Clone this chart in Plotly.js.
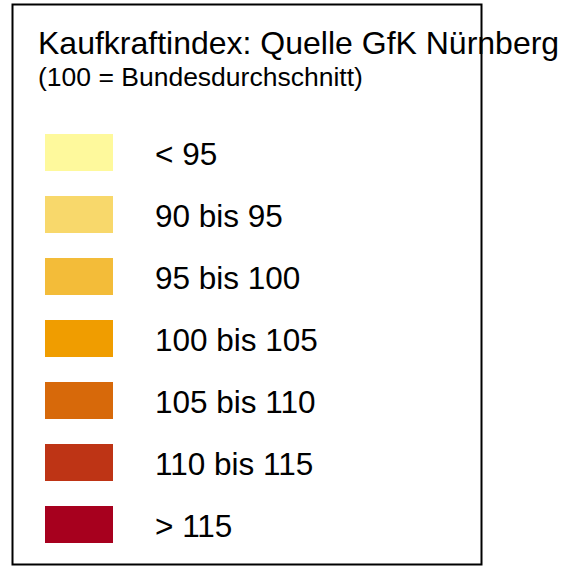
<!DOCTYPE html>
<html>
<head>
<meta charset="utf-8">
<script src="https://cdn.plot.ly/plotly-3.0.1.min.js"></script>
<style>
  html, body { margin: 0; padding: 0; background: #ffffff; }
  #chart { width: 565px; height: 566px; }
</style>
</head>
<body>
<div id="chart"></div>
<script>
// ---- data ----
var titleText = "Kaufkraftindex: Quelle GfK Nürnberg";
var subtitleText = "(100 = Bundesdurchschnitt)";
var classLabels = ["< 95", "90 bis 95", "95 bis 100", "100 bis 105", "105 bis 110", "110 bis 115", "> 115"];
var classColors = ["#FEF99C", "#F8D86B", "#F3BC39", "#F09D00", "#D7690A", "#BE3415", "#A7001E"];
var rowIndex = classLabels.map(function (_, i) { return i; });

// ---- layout constants ----
var W = 565, H = 566;
var FONT = "Liberation Sans, Arial, Helvetica, sans-serif";
var rowTopPx = 152, rowStepPx = 62;

var swatches = {
  type: "bar",
  orientation: "h",
  y: rowIndex,
  x: classLabels.map(function () { return 68; }),
  base: 45,
  width: 37 / rowStepPx,
  marker: { color: classColors, line: { width: 0 } },
  hoverinfo: "skip",
  showlegend: false
};

var annotations = classLabels.map(function (lab, i) {
  return {
    x: 152.5, y: rowIndex[i], xref: "x", yref: "y",
    text: lab, showarrow: false,
    xanchor: "left", yanchor: "middle", yshift: -2,
    font: { family: FONT, size: 31.5, color: "#000000" }
  };
});
annotations.push({
  x: 36, y: 1 - 43.5 / H, xref: "x", yref: "paper",
  text: titleText, showarrow: false, xanchor: "left", yanchor: "middle",
  font: { family: FONT, size: 32, color: "#000000" }
});
annotations.push({
  x: 36, y: 1 - 77 / H, xref: "x", yref: "paper",
  text: subtitleText, showarrow: false, xanchor: "left", yanchor: "middle",
  font: { family: FONT, size: 26.5, color: "#000000" }
});

var layout = {
  width: W, height: H,
  margin: { l: 0, r: 0, t: 0, b: 0, pad: 0 },
  paper_bgcolor: "#ffffff", plot_bgcolor: "#ffffff",
  xaxis: { range: [0, W], visible: false, fixedrange: true },
  yaxis: { range: [(H - rowTopPx) / rowStepPx, -rowTopPx / rowStepPx], visible: false, fixedrange: true },
  bargap: 0,
  showlegend: false,
  hovermode: false,
  annotations: annotations,
  shapes: [{
    type: "rect", xref: "x", yref: "paper",
    x0: 12.5, x1: 481.5, y0: 1 - 564.5 / H, y1: 1 - 4.5 / H,
    line: { color: "#000000", width: 2 }, fillcolor: "rgba(0,0,0,0)",
    layer: "above"
  }]
};

Plotly.newPlot("chart", [swatches], layout, { staticPlot: true, displayModeBar: false });
</script>
</body>
</html>
